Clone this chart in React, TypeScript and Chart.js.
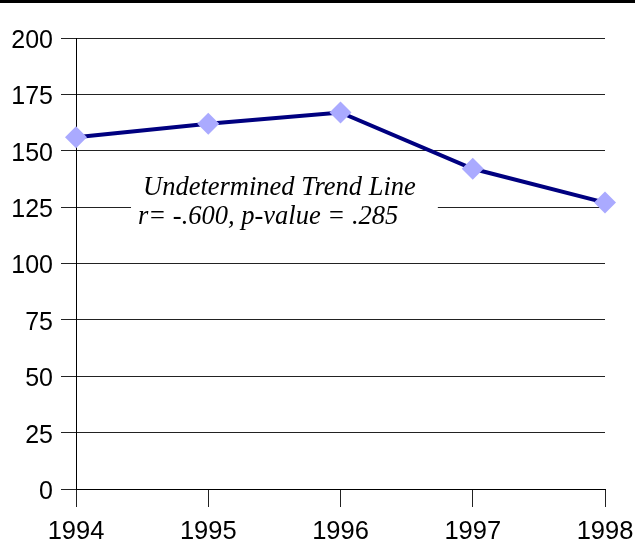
import React, { useEffect, useRef } from "react";
import { Chart, registerables } from "chart.js";

Chart.register(...registerables);

const years = ["1994", "1995", "1996", "1997", "1998"];
const values = [156, 162, 167, 142, 127];
const yTicks = [0, 25, 50, 75, 100, 125, 150, 175, 200];
const noteLines = ["Undetermined Trend Line", "r= -.600, p-value = .285"];

const annotationPlugin = {
  id: "trendNote",
  beforeDatasetsDraw(chart: any) {
    const { ctx, chartArea, scales } = chart;
    const yMid = scales.y.getPixelForValue(125);
    const w = chartArea.right - chartArea.left;
    const boxL = chartArea.left + w * 0.104;
    const boxR = chartArea.left + w * 0.684;
    ctx.save();
    ctx.fillStyle = "#ffffff";
    ctx.fillRect(boxL, yMid - 44, boxR - boxL, 72);
    ctx.fillStyle = "#000000";
    ctx.font = "italic 26.5px 'Liberation Serif', 'Times New Roman', serif";
    ctx.textAlign = "left";
    ctx.textBaseline = "alphabetic";
    ctx.fillText(noteLines[0], boxL + 12, yMid - 12);
    ctx.fillText(noteLines[1], boxL + 7, yMid + 17);
    ctx.restore();
  },
};

export default function App() {
  const ref = useRef<HTMLCanvasElement | null>(null);

  useEffect(() => {
    if (!ref.current) return;
    const fontX = { family: "'Liberation Sans', Arial, sans-serif", size: 25.5 };
    const fontY = { family: "'Liberation Sans', Arial, sans-serif", size: 25 };
    const chart = new Chart(ref.current, {
      type: "line",
      data: {
        labels: years,
        datasets: [
          {
            data: values,
            borderColor: "#000080",
            borderWidth: 4,
            backgroundColor: "#aaaaff",
            pointBackgroundColor: "#aaaaff",
            pointBorderWidth: 0,
            pointBorderColor: "#aaaaff",
            pointStyle: "rectRot",
            pointRadius: 11,
            tension: 0,
            clip: false as any,
          },
        ],
      },
      options: {
        animation: false,
        responsive: false,
        maintainAspectRatio: false,
        layout: { padding: { top: 38, right: 30, left: 0, bottom: 0 } },
        plugins: {
          legend: { display: false },
          tooltip: { enabled: false },
        },
        scales: {
          x: {
            type: "category",
            offset: false,
            grid: {
              drawOnChartArea: false,
              drawTicks: true,
              tickLength: 18,
              color: "#222222",
              lineWidth: 1,
            },
            border: { display: true, color: "#000000", width: 1 },
            ticks: { font: fontX, color: "#000000", padding: 10, maxRotation: 0, autoSkip: false },
            afterFit: (s: any) => {
              s.height = 53;
              s.paddingLeft = 0;
              s.paddingRight = 0;
            },
          },
          y: {
            min: 0,
            max: 200,
            afterBuildTicks: (s: any) => {
              s.ticks = yTicks.map((v) => ({ value: v }));
            },
            grid: {
              drawOnChartArea: true,
              drawTicks: true,
              tickLength: 15,
              color: "#222222",
              lineWidth: 1,
            },
            border: { display: true, color: "#000000", width: 1 },
            ticks: { font: fontY, color: "#000000", padding: 8, labelOffset: 3 } as any,
            afterFit: (s: any) => {
              s.width = 76;
              s.paddingTop = 0;
              s.paddingBottom = 0;
            },
          },
        },
      },
      plugins: [annotationPlugin],
    });
    return () => chart.destroy();
  }, []);

  return (
    <div style={{ position: "fixed", left: 0, top: 0, width: 635, height: 542, background: "#fff" }}>
      <canvas ref={ref} width={635} height={542} style={{ display: "block", width: 635, height: 542 }} />
      <div style={{ position: "absolute", left: 0, top: 0, width: 635, height: 3, background: "#000" }} />
    </div>
  );
}
